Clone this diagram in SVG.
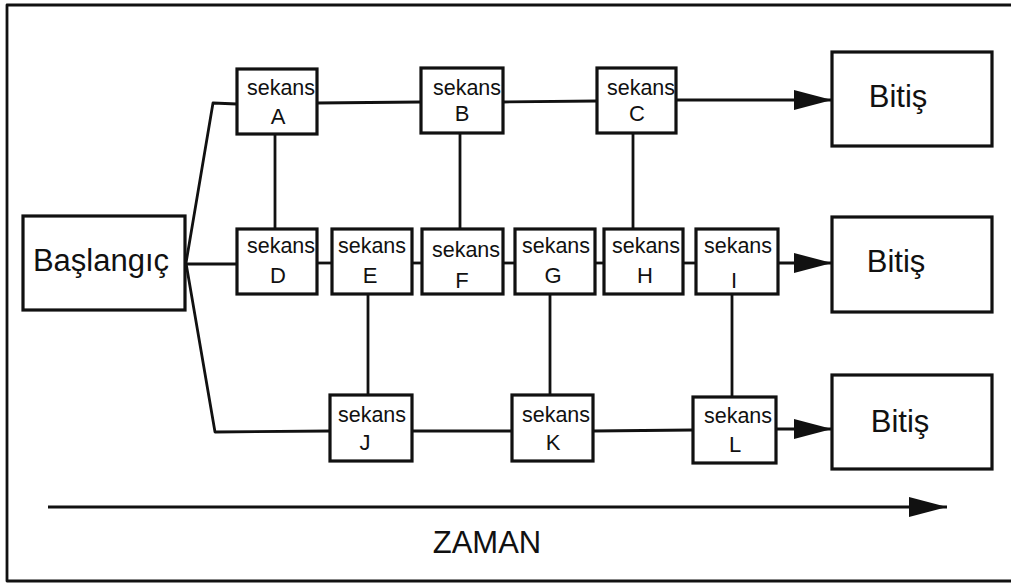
<svg xmlns="http://www.w3.org/2000/svg" width="1011" height="583" viewBox="0 0 1011 583">
<style>
.box{fill:#fff;stroke:#111;stroke-width:3.2}
.ln{fill:none;stroke:#111;stroke-width:2.8;stroke-linejoin:round}
.t{font-family:"Liberation Sans",Arial,sans-serif;fill:#111;text-anchor:middle}
.s{font-size:21.5px}
.l{font-size:22px}
.big{font-size:31px}
</style>
<defs>
<marker id="ah" viewBox="0 0 38 20" refX="38" refY="10" markerWidth="38" markerHeight="20" markerUnits="userSpaceOnUse" orient="auto">
<path d="M0,0 L38,10 L0,20 Z" fill="#111"/>
</marker>
</defs>
<rect width="1011" height="583" fill="#fff"/>
<polyline class="ln" points="1011,5 7,5 7,581 1011,581" stroke-width="3"/>
<g id="connectors">
<polyline class="ln" points="237,104 213,103 186,263 215,432 330,431"/>
<line class="ln" x1="186" y1="264" x2="237" y2="264"/>
<line class="ln" x1="317" y1="103" x2="421" y2="102"/>
<line class="ln" x1="503" y1="102" x2="597" y2="101"/>
<line class="ln" x1="676" y1="100" x2="832" y2="100" marker-end="url(#ah)"/>
<line class="ln" x1="317" y1="263" x2="332" y2="263"/>
<line class="ln" x1="412" y1="263" x2="422" y2="263"/>
<line class="ln" x1="503" y1="263" x2="515" y2="263"/>
<line class="ln" x1="595" y1="263" x2="604" y2="263"/>
<line class="ln" x1="683" y1="263" x2="696" y2="263"/>
<line class="ln" x1="778" y1="263" x2="832" y2="263" marker-end="url(#ah)"/>
<line class="ln" x1="412" y1="431" x2="512" y2="431"/>
<line class="ln" x1="593" y1="431" x2="693" y2="430"/>
<line class="ln" x1="776" y1="429" x2="832" y2="429" marker-end="url(#ah)"/>
<line class="ln" x1="275" y1="134" x2="275" y2="229"/>
<line class="ln" x1="460" y1="133" x2="460" y2="229"/>
<line class="ln" x1="633" y1="133" x2="633" y2="229"/>
<line class="ln" x1="368" y1="294" x2="368" y2="395"/>
<line class="ln" x1="550" y1="294" x2="550" y2="395"/>
<line class="ln" x1="732" y1="294" x2="732" y2="397"/>
<line class="ln" x1="48" y1="507" x2="947" y2="507" marker-end="url(#ah)" stroke-width="3"/>
</g>
<g id="baslangic"><rect class="box" x="23" y="216" width="162" height="94"/><text class="t big" x="101" y="271">Başlangıç</text></g>
<g id="A"><rect class="box" x="237" y="69" width="80" height="65"/><text class="t s" x="281" y="95">sekans</text><text class="t l" x="278" y="124">A</text></g>
<g id="B"><rect class="box" x="421" y="68" width="82" height="65"/><text class="t s" x="467" y="95">sekans</text><text class="t l" x="462" y="121">B</text></g>
<g id="C"><rect class="box" x="597" y="68" width="79" height="65"/><text class="t s" x="641" y="95">sekans</text><text class="t l" x="637" y="121">C</text></g>
<g id="D"><rect class="box" x="237" y="229" width="80" height="65"/><text class="t s" x="281" y="253">sekans</text><text class="t l" x="278" y="283">D</text></g>
<g id="E"><rect class="box" x="332" y="229" width="80" height="65"/><text class="t s" x="372" y="253">sekans</text><text class="t l" x="370" y="283">E</text></g>
<g id="F"><rect class="box" x="422" y="229" width="81" height="65"/><text class="t s" x="466" y="257">sekans</text><text class="t l" x="462" y="288">F</text></g>
<g id="G"><rect class="box" x="515" y="229" width="80" height="65"/><text class="t s" x="556" y="253">sekans</text><text class="t l" x="553" y="283">G</text></g>
<g id="H"><rect class="box" x="604" y="229" width="79" height="65"/><text class="t s" x="646" y="253">sekans</text><text class="t l" x="645" y="283">H</text></g>
<g id="I"><rect class="box" x="696" y="229" width="82" height="65"/><text class="t s" x="738" y="253">sekans</text><text class="t l" x="734" y="288">I</text></g>
<g id="J"><rect class="box" x="330" y="395" width="82" height="66"/><text class="t s" x="372" y="422">sekans</text><text class="t l" x="365" y="450">J</text></g>
<g id="K"><rect class="box" x="512" y="395" width="81" height="66"/><text class="t s" x="556" y="422">sekans</text><text class="t l" x="553" y="450">K</text></g>
<g id="L"><rect class="box" x="693" y="397" width="83" height="66"/><text class="t s" x="738" y="423">sekans</text><text class="t l" x="735" y="452">L</text></g>
<g id="bitis1"><rect class="box" x="832" y="52" width="160" height="94"/><text class="t big" x="898" y="107">Bitiş</text></g>
<g id="bitis2"><rect class="box" x="832" y="217" width="160" height="95"/><text class="t big" x="896" y="272">Bitiş</text></g>
<g id="bitis3"><rect class="box" x="832" y="375" width="160" height="94"/><text class="t big" x="900" y="432">Bitiş</text></g>
<text class="t big" x="487" y="553">ZAMAN</text>
</svg>
